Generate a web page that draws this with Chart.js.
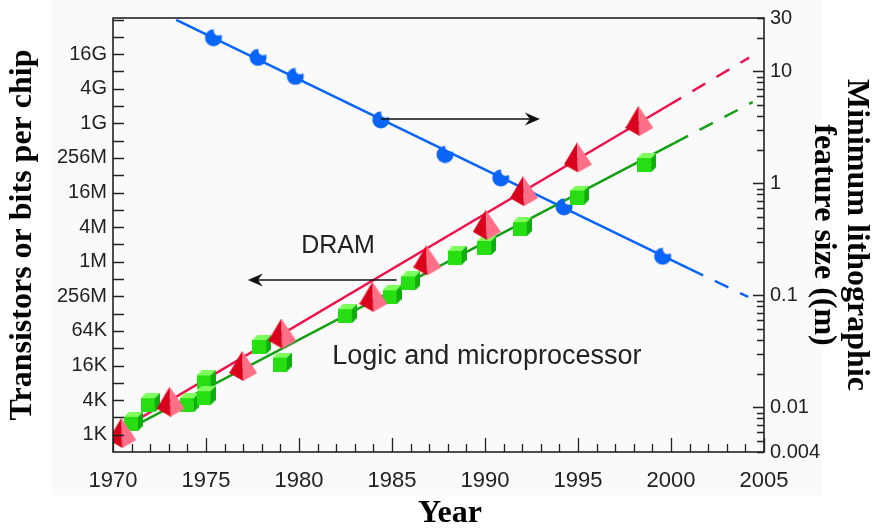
<!DOCTYPE html>
<html>
<head>
<meta charset="utf-8">
<script src="https://cdn.jsdelivr.net/npm/chart.js@4"></script>
<style>
  html, body { margin: 0; padding: 0; background: #fff; }
</style>
</head>
<body>
<canvas id="chart" width="874" height="532"></canvas>
<script>
// DRAM capacity (bits per chip)
const dramYears = [1970.5, 1973.1, 1977.0, 1979.1, 1984.0, 1986.9, 1990.1, 1992.1, 1995.0, 1998.3];
const dramBits = [1.1e3, 3.85e3, 16.1e3, 59e3, 257e3, 1.11e6, 4.6e6, 17.8e6, 68.5e6, 296e6];

// logic / microprocessor transistor counts
const logicYears = [1971.1, 1972.0, 1974.1, 1975.0, 1975.0, 1978.0, 1979.1, 1982.6, 1985.0, 1986.0, 1988.5, 1990.1, 1992.0, 1995.1, 1998.7];
const logicCount = [1.75e3, 3.7e3, 3.7e3, 9.2e3, 4.9e3, 38e3, 18.8e3, 131e3, 279e3, 485e3, 1.35e6, 2.01e6, 4.28e6, 15.2e6, 56e6];

// minimum lithographic feature size
const featureYears = [1975.4, 1977.8, 1979.8, 1984.4, 1987.85, 1990.85, 1994.25, 1999.55];
const featureSize = [20.4, 13.6, 9.2, 3.77, 1.85, 1.14, 0.63, 0.228];

// trend lines: start, end of solid part, end of projection
const dramTrendYears = [1970.0, 1999.85, 2004.2];
const dramTrendBits = [1044, 5.48e8, 3.74e9];
const logicTrendYears = [1970.0, 2000.2, 2004.4];
const logicTrendCount = [927, 1.23e8, 6.3e8];
const featureTrendYears = [1973.4, 2001.0, 2004.15];
const featureTrendSize = [28.8, 0.173, 0.097];

const leftTickLabels = ['1K', '4K', '16K', '64K', '256M', '1M', '4M', '16M', '256M', '1G', '4G', '16G'];
const rightTickValues = [0.004, 0.01, 0.1, 1, 10, 30];
const rightTickLabels = ['0.004', '0.01', '0.1', '1', '10', '30'];

const leftTickValues = leftTickLabels.map((_, i) => 1024 * 4 ** i);
const toPoints = (xs, ys) => xs.map((x, i) => ({ x, y: ys[i] }));

function pyramid() {
  const c = document.createElement('canvas');
  c.width = 28; c.height = 30;
  const g = c.getContext('2d');
  g.fillStyle = '#d9001c';
  g.beginPath(); g.moveTo(13, 0); g.lineTo(0, 22); g.lineTo(14, 30); g.closePath(); g.fill();
  g.fillStyle = '#ff6f88';
  g.beginPath(); g.moveTo(13, 0); g.lineTo(14, 30); g.lineTo(28, 22); g.closePath(); g.fill();
  return c;
}

function cube() {
  const c = document.createElement('canvas');
  c.width = 19; c.height = 19;
  const g = c.getContext('2d');
  g.fillStyle = '#7dff5c';
  g.beginPath(); g.moveTo(0, 5); g.lineTo(5, 0); g.lineTo(19, 0); g.lineTo(14, 5); g.closePath(); g.fill();
  g.fillStyle = '#26de12';
  g.fillRect(0, 5, 14, 14);
  g.fillStyle = '#0fae0f';
  g.beginPath(); g.moveTo(14, 5); g.lineTo(19, 0); g.lineTo(19, 14); g.lineTo(14, 19); g.closePath(); g.fill();
  return c;
}

function bittenDot() {
  const c = document.createElement('canvas');
  c.width = 20; c.height = 20;
  const g = c.getContext('2d');
  g.fillStyle = '#0a64f5';
  g.beginPath(); g.arc(10, 11, 8.5, 0, Math.PI * 2); g.fill();
  g.globalCompositeOperation = 'destination-out';
  g.beginPath(); g.arc(15, 4, 4.8, 0, Math.PI * 2); g.fill();
  return c;
}

const dashedAfter = split => ({
  borderDash: ctx => (ctx.p0.parsed.x >= split - 0.01 ? [15, 13] : undefined)
});

function arrow(ctx, x0, y, x1) {
  const dir = Math.sign(x1 - x0);
  ctx.beginPath();
  ctx.moveTo(x0, y);
  ctx.lineTo(x1 - dir * 6, y);
  ctx.stroke();
  ctx.beginPath();
  ctx.moveTo(x1, y);
  ctx.lineTo(x1 - dir * 15, y - 6.5);
  ctx.lineTo(x1 - dir * 10, y);
  ctx.lineTo(x1 - dir * 15, y + 6.5);
  ctx.closePath();
  ctx.fill();
}

const decor = {
  id: 'decor',
  beforeDraw(chart) {
    const { ctx } = chart;
    ctx.save();
    ctx.fillStyle = '#fafafa';
    ctx.fillRect(52, 0, 770, 495);
    ctx.restore();
  },
  afterDatasetsDraw(chart) {
    const { ctx, scales: { x, y, y2 } } = chart;
    ctx.save();
    ctx.strokeStyle = '#111';
    ctx.fillStyle = '#111';
    ctx.lineWidth = 1.5;
    // feature size points to the right axis, DRAM to the left
    arrow(ctx, x.getPixelForValue(1984.4), y2.getPixelForValue(3.77), x.getPixelForValue(1992.95));
    arrow(ctx, x.getPixelForValue(1985.25), y.getPixelForValue(5.03e5), x.getPixelForValue(1977.25));

    ctx.fillStyle = '#222';
    ctx.textAlign = 'center';
    ctx.textBaseline = 'middle';
    ctx.font = '25px "Liberation Sans", Arial, sans-serif';
    ctx.fillText('DRAM', x.getPixelForValue(1982.1), y.getPixelForValue(1.95e6));
    ctx.font = '27px "Liberation Sans", Arial, sans-serif';
    ctx.fillText('Logic and microprocessor', x.getPixelForValue(1990.1), y.getPixelForValue(23.8e3));
    ctx.restore();
  },
  afterDraw(chart) {
    const { ctx, chartArea: a, scales: { x, y, y2 } } = chart;
    ctx.save();
    ctx.strokeStyle = '#222';
    ctx.lineWidth = 1.3;
    ctx.beginPath();
    for (let yr = 1970; yr <= 2005; yr++) {
      const px = Math.round(x.getPixelForValue(yr)) + 0.5;
      const len = yr % 5 === 0 ? 14 : 8;
      ctx.moveTo(px, a.bottom); ctx.lineTo(px, a.bottom - len);
    }
    for (let k = 10; k <= 34; k++) {
      const py = Math.round(y.getPixelForValue(2 ** k)) + 0.5;
      ctx.moveTo(a.left, py); ctx.lineTo(a.left + 11, py);
    }
    for (let e = -3; e <= 1; e++) {
      for (let m = 1; m <= 9; m++) {
        const v = m * 10 ** e;
        if (v < 0.004 || v > 30) continue;
        const py = Math.round(y2.getPixelForValue(v)) + 0.5;
        const len = m === 1 ? 11 : 7;
        ctx.moveTo(a.right, py); ctx.lineTo(a.right - len, py);
      }
    }
    ctx.stroke();

    ctx.lineWidth = 1.6;
    ctx.strokeRect(a.left, a.top, a.right - a.left, a.bottom - a.top);

    ctx.fillStyle = '#000';
    ctx.font = 'bold 32px "Liberation Serif", "Times New Roman", serif';
    ctx.textAlign = 'center';
    ctx.textBaseline = 'middle';
    ctx.fillText('Year', 450, 514);
    ctx.restore();
  }
};

const tickFont = { family: '"Liberation Sans", Arial, sans-serif', size: 20 };
const titleFont = { family: '"Liberation Serif", "Times New Roman", serif', size: 32, weight: 'bold' };

new Chart(document.getElementById('chart'), {
  type: 'scatter',
  data: {
    datasets: [
      {
        label: 'DRAM',
        data: toPoints(dramYears, dramBits),
        yAxisID: 'y',
        pointStyle: pyramid(),
        order: 0
      },
      {
        label: 'Logic and microprocessor',
        data: toPoints(logicYears, logicCount),
        yAxisID: 'y',
        pointStyle: cube(),
        order: 0
      },
      {
        label: 'Minimum feature size',
        data: toPoints(featureYears, featureSize),
        yAxisID: 'y2',
        pointStyle: bittenDot(),
        order: 0
      },
      {
        label: 'DRAM trend',
        data: toPoints(dramTrendYears, dramTrendBits),
        yAxisID: 'y',
        showLine: true,
        pointRadius: 0,
        borderColor: '#f0104a',
        borderWidth: 2.5,
        segment: dashedAfter(dramTrendYears[1]),
        order: 1
      },
      {
        label: 'Logic trend',
        data: toPoints(logicTrendYears, logicTrendCount),
        yAxisID: 'y',
        showLine: true,
        pointRadius: 0,
        borderColor: '#14a014',
        borderWidth: 2.5,
        segment: dashedAfter(logicTrendYears[1]),
        order: 1
      },
      {
        label: 'Feature size trend',
        data: toPoints(featureTrendYears, featureTrendSize),
        yAxisID: 'y2',
        showLine: true,
        pointRadius: 0,
        borderColor: '#0a64f5',
        borderWidth: 2.5,
        segment: dashedAfter(featureTrendYears[1]),
        order: 1
      }
    ]
  },
  options: {
    responsive: false,
    animation: false,
    events: [],
    layout: { padding: { top: 13, left: 0, right: 0, bottom: 0 } },
    plugins: {
      legend: { display: false },
      tooltip: { enabled: false }
    },
    scales: {
      x: {
        type: 'linear',
        position: 'bottom',
        min: 1970,
        max: 2005,
        grid: { display: false, drawTicks: false },
        border: { display: false },
        ticks: {
          stepSize: 5,
          padding: 16,
          color: '#222',
          font: { family: tickFont.family, size: 22 },
          callback: v => String(v)
        },
        afterFit: s => { s.height = 80; }
      },
      y: {
        type: 'logarithmic',
        position: 'left',
        min: 512,
        max: 1.83e10,
        grid: { display: false, drawTicks: false },
        border: { display: false },
        afterBuildTicks: s => { s.ticks = leftTickValues.map(value => ({ value })); },
        ticks: {
          autoSkip: false,
          padding: 6,
          color: '#222',
          font: tickFont,
          callback: (v, i) => leftTickLabels[i]
        },
        title: {
          display: true,
          text: 'Transistors or bits per chip',
          color: '#000',
          font: titleFont,
          padding: { top: 4, bottom: 0 }
        },
        afterFit: s => { s.width = 113; }
      },
      y2: {
        type: 'logarithmic',
        position: 'right',
        min: 0.004,
        max: 30,
        grid: { display: false, drawTicks: false },
        border: { display: false },
        afterBuildTicks: s => { s.ticks = rightTickValues.map(value => ({ value })); },
        ticks: {
          autoSkip: false,
          padding: 6,
          color: '#222',
          font: tickFont,
          callback: (v, i) => rightTickLabels[i]
        },
        title: {
          display: true,
          text: ['Minimum lithographic', 'feature size ((m)'],
          color: '#000',
          font: { ...titleFont, lineHeight: 1.03 },
          padding: { top: 1.5, bottom: 0 }
        },
        afterFit: s => { s.width = 110; }
      }
    }
  },
  plugins: [decor]
});
</script>
</body>
</html>
